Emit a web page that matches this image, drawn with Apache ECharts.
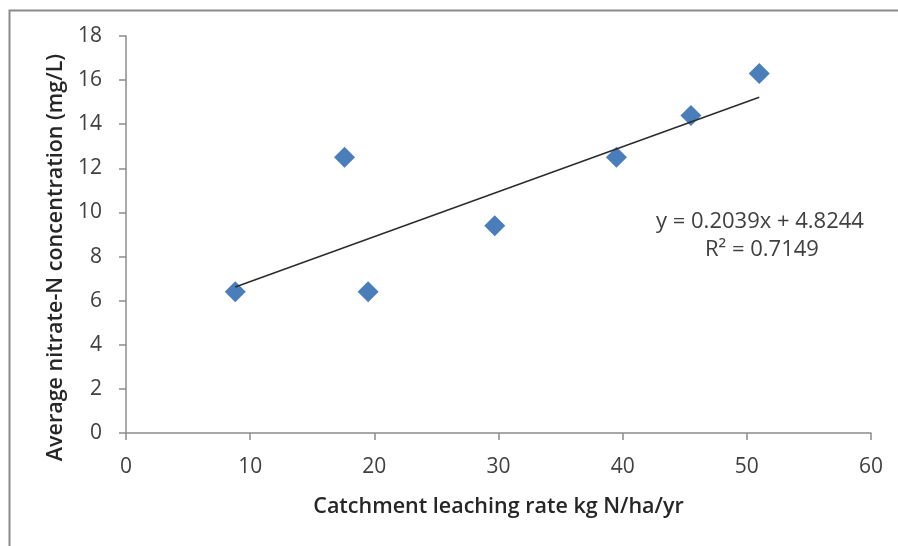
<!DOCTYPE html>
<html>
<head>
<meta charset="utf-8">
<script src="https://cdn.jsdelivr.net/npm/echarts@6/dist/echarts.min.js"></script>
<style>html,body{margin:0;padding:0;background:#fff;}#c{width:898px;height:546px;}</style>
</head>
<body>
<div id="c"></div>
<script>
// Data
const leachingRate = [8.8, 17.6, 19.5, 29.7, 39.5, 45.5, 51.0];
const nitrateConc  = [6.4, 12.5, 6.4, 9.4, 12.5, 14.4, 16.3];
// Trendline equation shown on chart
const slope = 0.2039;
const intercept = 4.8244;
const equationText = 'y = 0.2039x + 4.8244';
const r2Text = 'R² = 0.7149';
const xTitle = 'Catchment leaching rate kg N/ha/yr';
const yTitle = 'Average nitrate-N concentration (mg/L)';

const points = leachingRate.map((x, i) => [x, nitrateConc[i]]);
const xMin = Math.min(...leachingRate), xMax = Math.max(...leachingRate);
const trend = [[xMin, slope * xMin + intercept], [xMax, slope * xMax + intercept]];

const FONT = 'Open Sans';
const chart = echarts.init(document.getElementById('c'), null, {renderer: 'canvas'});
chart.setOption({
  animation: false,
  backgroundColor: '#fff',
  grid: {left: 126, right: 27, top: 36, bottom: 113},
  xAxis: {
    type: 'value', min: 0, max: 60, interval: 10,
    name: xTitle, nameLocation: 'middle', nameGap: 63,
    nameTextStyle: {fontFamily: FONT, fontSize: 21.5, fontWeight: 600, color: '#262626'},
    axisLine: {show: true, lineStyle: {color: '#8c8c8c', width: 1.5}},
    axisTick: {show: true, length: 7, lineStyle: {color: '#8c8c8c', width: 1.5}},
    axisLabel: {fontFamily: FONT, fontSize: 21, color: '#404040', margin: 24},
    splitLine: {show: false}
  },
  yAxis: {
    type: 'value', min: 0, max: 18, interval: 2,
    name: yTitle, nameLocation: 'middle', nameGap: 59, nameRotate: 90,
    nameTextStyle: {fontFamily: FONT, fontSize: 21.5, fontWeight: 600, color: '#262626',
                    padding: [0, 46, 0, 0]},
    axisLine: {show: true, lineStyle: {color: '#8c8c8c', width: 1.5}},
    axisTick: {show: true, length: 7, lineStyle: {color: '#8c8c8c', width: 1.5}},
    axisLabel: {fontFamily: FONT, fontSize: 21, color: '#404040', margin: 24},
    splitLine: {show: false}
  },
  series: [
    {
      type: 'line', data: trend, symbol: 'none', silent: true,
      lineStyle: {color: '#2b2b2b', width: 1.5}, z: 3
    },
    {
      type: 'scatter', data: points, symbol: 'diamond', symbolSize: [21, 21],
      itemStyle: {color: '#4a7ebb', opacity: 1}, z: 2
    }
  ],
  graphic: [
    {type: 'rect', left: 7, top: 8, shape: {width: 905, height: 560},
     style: {fill: 'none', stroke: '#8a8a8a', lineWidth: 2}, silent: true},
    {type: 'text', left: 656, top: 211,
     style: {text: equationText, font: '22px "Open Sans"', fill: '#404040'}},
    {type: 'text', left: 705, top: 239,
     style: {text: r2Text, font: '22px "Open Sans"', fill: '#404040'}}
  ]
});
</script>
</body>
</html>
